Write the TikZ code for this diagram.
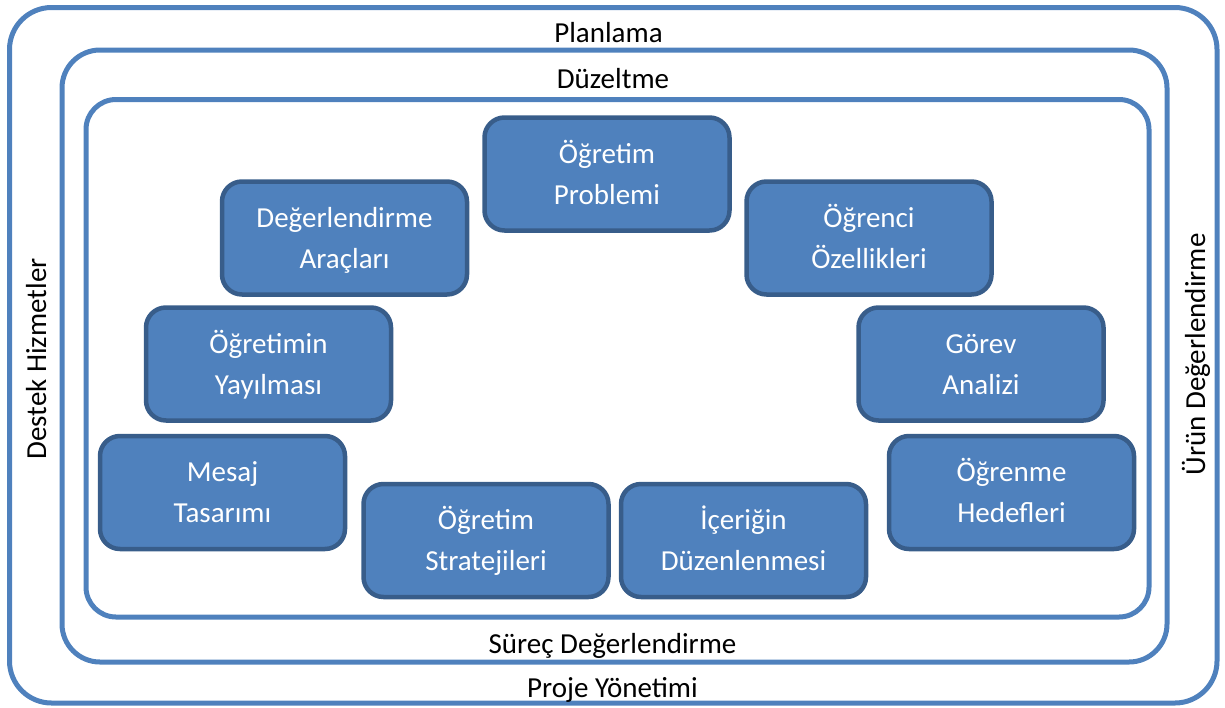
\documentclass[tikz,border=0pt]{standalone}
\usepackage{fontspec}
\setmainfont{Carlito}
\definecolor{frameblue}{HTML}{4F81BD}
\definecolor{boxfill}{HTML}{4F81BD}
\definecolor{boxedge}{HTML}{385D8A}
% strut that keeps every two-line label at the same vertical position
\newcommand{\lnstrut}{\rule[-6pt]{0pt}{31pt}}
\begin{document}
\begin{tikzpicture}[x=1pt,y=-1pt,
  frame/.style={draw=frameblue,line width=5pt},
  stagebox/.style={draw=boxedge,fill=boxfill,line width=4.5pt,rounded corners=20pt,
    minimum width=245pt,minimum height=113pt,text=white,align=center,
    font=\fontsize{29}{41}\selectfont,inner sep=0pt},
  ringlabel/.style={font=\fontsize{29}{35}\selectfont,text=black,inner sep=0pt,anchor=base}]
\useasboundingbox (0,0) rectangle (1225,707);

% nested phase frames
\draw[frame,rounded corners=42pt] (9.5,7.5) rectangle (1217,703);
\draw[frame,rounded corners=38pt] (62,50) rectangle (1167,662);
\draw[frame,rounded corners=30pt] (86,99.5) rectangle (1149,617);

% frame labels
\node[ringlabel] (plan) at (608.5,42) {Planlama};
\node[ringlabel] (duz) at (613,88) {Düzeltme};
\node[ringlabel] (surec) at (612.5,653) {Süreç Değerlendirme};
\node[ringlabel] (proje) at (612.5,697) {Proje Yönetimi};
\node[ringlabel,rotate=90] (destek) at (46,359) {Destek Hizmetler};
\node[ringlabel,rotate=90] (urun) at (1205,354.5) {Ürün Değerlendirme};

% design stages
\node[stagebox] (problem) at (607,174) {\lnstrut Öğretim\\\lnstrut Problemi};
\node[stagebox] (ogrenci) at (869,238) {\lnstrut Öğrenci\\\lnstrut Özellikleri};
\node[stagebox] (gorev) at (981,364) {\lnstrut Görev\\\lnstrut Analizi};
\node[stagebox] (hedef) at (1011.5,492.5) {\lnstrut Öğrenme\\\lnstrut Hedefleri};
\node[stagebox] (icerik) at (743.5,540.5) {\lnstrut İçeriğin\\\lnstrut Düzenlenmesi};
\node[stagebox] (strateji) at (486,540.5) {\lnstrut Öğretim\\\lnstrut Stratejileri};
\node[stagebox] (mesaj) at (222.5,492.5) {\lnstrut Mesaj\\\lnstrut Tasarımı};
\node[stagebox] (yayilma) at (268.5,364) {\lnstrut Öğretimin\\\lnstrut Yayılması};
\node[stagebox] (arac) at (344.5,238) {\lnstrut Değerlendirme\\\lnstrut Araçları};
\end{tikzpicture}
\end{document}
